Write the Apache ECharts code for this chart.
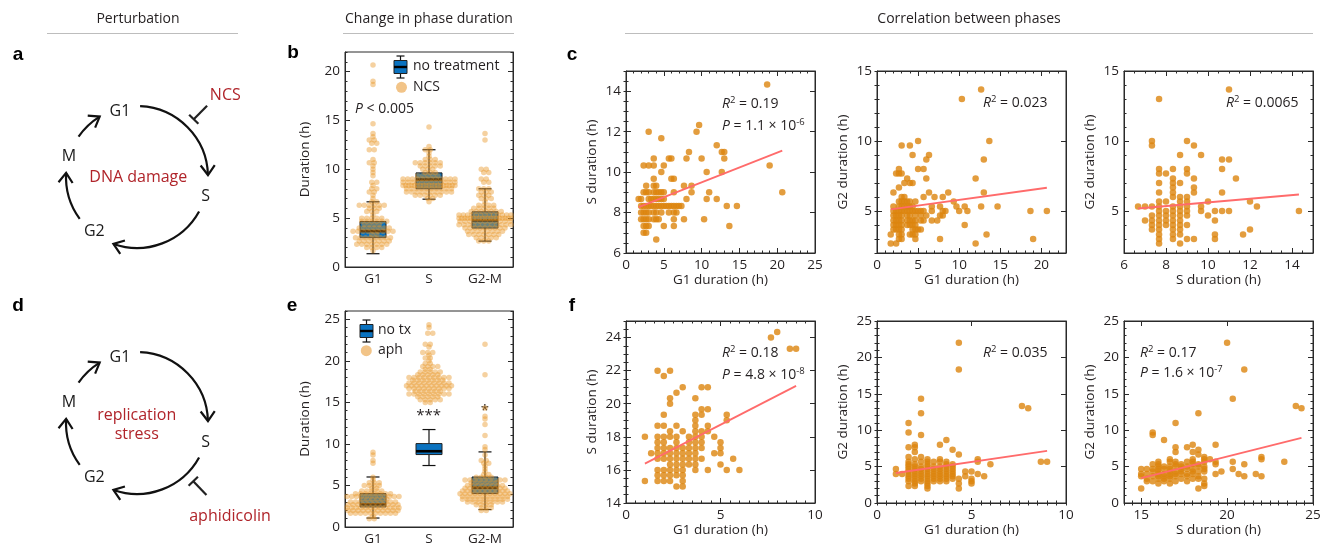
<!DOCTYPE html>
<html><head><meta charset="utf-8">
<script src="https://cdn.jsdelivr.net/npm/echarts@6/dist/echarts.min.js"></script>
<style>html,body{margin:0;padding:0;background:#fff}#c{width:1326px;height:546px}</style>
</head><body><div id="c"></div>
<script>
// ---------------- DATA ----------------
const phaseCats = ['G1', 'S', 'G2-M'];
// box stats [whiskerLow, Q1, median, Q3, whiskerHigh]
const noTreatmentBox = [[1.36, 3.0, 3.67, 4.66, 6.67], [6.94, 8.0, 8.95, 9.63, 12.0], [2.65, 3.98, 4.77, 5.65, 8.0]];
const noTxBox = [[1.08, 2.41, 2.73, 4.02, 6.02], [7.4, 8.72, 9.12, 10.04, 11.73], [2.1, 4.02, 4.74, 6.02, 9.04]];

// NCS: rows [S, [G1 ...]]
const ncsG1S = [
 [14.33,[18.67]],[12.33,[9.67]],[12.0,[3.0,9.33]],[11.67,[4.67]],[11.33,[12.0]],
 [11.0,[8.33,12.67,13.0]],[10.67,[3.67,5.67,6.0,8.0,10.0,13.0]],[10.33,[2.33,3.0,3.67,5.0,19.0]],
 [10.0,[4.67,10.67,12.67]],[9.67,[3.67,6.0,6.33]],[9.33,[2.67,3.67,4.0,7.67,8.67]],
 [9.0,[2.33,2.67,3.0,3.67,4.0,4.33,4.67,5.0,6.33,8.67,11.0,20.67]],
 [8.67,[1.67,2.0,3.0,3.33,3.67,4.0,4.33,4.67,5.0,8.0,10.67,12.0]],
 [8.33,[2.0,2.33,2.67,3.0,3.33,3.67,4.0,4.33,4.67,5.0,5.33,5.67,6.0,6.33,6.67,7.0,7.33,13.33,14.67]],
 [8.0,[2.0,2.33,2.67,3.0,3.67,4.0,4.67,5.67,6.33,6.67]],
 [7.67,[2.0,2.33,2.67,3.0,3.67,4.0,4.33,6.33,7.67,10.33]],
 [7.33,[2.33,2.67,3.0,5.0,6.33,13.67]],[7.0,[2.33,2.67]],[6.67,[4.0]]
];
// NCS: rows [G2, [G1 ...]]
const ncsG1G2 = [
 [13.67,[12.67]],[13.0,[10.33]],[10.0,[5.0,13.67]],[9.67,[3.0,4.0]],[9.0,[4.33,6.33]],
 [8.67,[6.0,13.0]],[8.0,[2.67,5.0,5.67]],[7.67,[2.33,2.67,3.0]],[7.33,[3.67,6.0,12.0]],
 [7.0,[3.33,4.0,4.33]],[6.67,[2.67]],[6.33,[2.0,6.33,8.67,13.0]],[6.0,[3.0,3.33,5.67,7.0,8.0]],
 [5.67,[2.67,3.0,3.33,3.67,4.0,4.67,9.33]],
 [5.33,[2.0,2.67,3.0,3.33,3.67,4.0,4.33,6.67,7.67,9.67,10.67,12.67,14.67]],
 [5.0,[2.0,2.33,2.67,3.0,3.33,3.67,4.0,4.33,4.67,5.0,5.33,5.67,6.67,8.0,8.33,10.0,11.0,18.67,20.67]],
 [4.67,[2.0,2.33,2.67,3.0,3.67,4.0,4.67,5.33,6.0,7.67,8.0]],
 [4.33,[2.0,2.33,2.67,3.0,3.67,4.0,4.33,4.67,5.33,5.67,6.67,7.33]],
 [4.0,[2.0,2.33,2.67,3.0,3.67,4.0,4.33,4.67,10.67]],
 [3.67,[2.0,2.33,2.67,3.0,4.33,4.67,5.0,5.33]],
 [3.33,[1.67,2.67,3.0,4.0,4.33,4.67,13.33]],
 [3.0,[2.67,3.0,4.67,7.67,19.0]],[2.67,[1.67,2.33,12.0]]
];
// NCS: rows [G2, [S ...]]
const ncsSG2 = [
 [13.67,[11.0]],[13.0,[7.67]],[10.0,[7.33,9.0]],[9.67,[7.33,9.33]],[9.0,[8.67,9.67]],
 [8.67,[10.67,11.0]],[8.0,[7.67,8.33,9.0,10.67]],[7.67,[7.67,8.0,9.0]],[7.33,[8.33,9.33,11.33]],
 [7.0,[7.67,8.33,8.67]],[6.67,[8.33,9.33]],[6.33,[7.67,8.33,9.33,10.67]],[6.0,[8.33,8.67,9.0]],
 [5.67,[7.67,8.0,8.67,9.0,10.0,12.0]],[5.33,[6.67,7.0,7.33,7.67,8.33,8.67,9.0,9.67,12.33]],
 [5.0,[7.67,8.0,8.33,8.67,9.0,9.67,10.33,10.67,11.0,14.33]],
 [4.67,[7.33,7.67,8.0,8.33,8.67,9.0,10.0]],[4.33,[7.0,7.33,7.67,8.0,8.33,8.67,10.33]],
 [4.0,[7.33,7.67,8.0,8.33,8.67,9.0]],[3.67,[7.33,7.67,8.33,8.67,12.0]],
 [3.33,[7.67,8.33,8.67,10.33,11.67]],[3.0,[7.67,8.33,9.0,9.33,10.33]],[2.67,[7.67,8.67]]
];
// aphidicolin: rows [S, [G1 ...]]
const aphG1S = [
 [24.33,[8.0]],[24.0,[7.67]],[23.33,[8.67,9.0]],[22.0,[1.67,2.33]],[21.67,[2.0]],
 [21.0,[3.0,4.0,4.33]],[20.67,[2.67]],[20.33,[2.33,3.67]],[20.0,[2.33]],[19.67,[4.0,4.33]],
 [19.33,[2.0,3.67,4.0,5.33]],[19.0,[3.67,5.33]],[18.67,[1.67,2.0,2.67,3.67,4.33]],
 [18.33,[2.33,3.0,3.67,4.0,4.33]],[18.0,[1.0,1.67,2.0,2.33,2.67,3.33,3.67,4.0,4.67]],
 [17.67,[1.67,2.0,2.67,3.33,3.67,4.0,5.0]],[17.33,[1.67,2.0,2.33,2.67,3.0,3.33,3.67,4.0,5.0]],
 [17.0,[1.33,1.67,2.0,2.33,2.67,3.0,3.33,3.67,4.67,5.0]],
 [16.67,[1.67,2.0,2.33,2.67,3.0,3.33,3.67,4.0,5.67]],[16.33,[2.33,2.67,3.0,3.33,3.67,5.0]],
 [16.0,[1.67,2.0,2.33,2.67,3.0,3.67,4.33,5.33,6.0]],[15.67,[1.67,2.0,2.33,2.67,3.0]],
 [15.33,[1.0,1.67,2.0,2.33,3.0]],[15.0,[2.67,3.0]]
];
// aphidicolin: columns [G1, [G2 ...]]
const aphG1G2 = [
 [1.0,[4.67,4.0]],[1.33,[4.0]],
 [1.67,[11.0,9.67,7.67,6.33,5.67,5.33,5.0,4.67,4.33,4.0,3.67,3.33,3.0,2.33]],
 [2.0,[8.0,7.67,7.0,6.0,5.33,5.0,4.67,4.33,4.0,3.67,3.33,3.0,2.67,2.33]],
 [2.33,[14.33,12.33,9.33,6.33,5.67,5.0,4.67,4.33,4.0,3.67,3.33,3.0]],
 [2.67,[6.0,5.67,5.33,5.0,4.67,4.33,4.0,3.67,3.33,3.0,2.67,2.33,2.0]],
 [3.0,[5.67,5.0,4.67,4.33,4.0,3.67,3.33,3.0]],
 [3.33,[8.0,6.0,5.67,5.0,4.67,4.33,4.0,3.67,3.33,3.0]],
 [3.67,[8.67,5.67,5.33,5.0,4.67,4.33,4.0,3.67,3.33,3.0]],
 [4.0,[7.33,5.33,5.0,4.67,4.33,4.0,3.67,3.33]],
 [4.33,[22.0,18.33,6.67,3.33,2.67,2.0]],[4.67,[4.33,3.67]],[5.0,[4.33,3.33,3.0,2.67]],
 [5.33,[6.0,5.67,4.0]],[5.67,[3.67]],[6.0,[5.33]],[7.67,[13.33]],[8.0,[13.0]],[8.67,[5.67]],[9.0,[5.67]]
];
// aphidicolin: columns [S, [G2 ...]]
const aphSG2 = [
 [15.0,[4.67,4.0,3.67,2.0]],[15.33,[4.67,4.0,3.33,3.0]],[15.67,[9.67,9.33,5.33,4.67,4.33,3.67,3.0]],
 [16.0,[5.67,5.33,5.0,4.67,4.33,4.0,3.67,3.33,2.67]],[16.33,[8.67,5.0,4.67,4.0,3.67,3.33,3.0]],
 [16.67,[6.0,5.67,5.0,4.67,4.33,4.0,3.67,3.33,2.67]],
 [17.0,[11.0,7.67,7.0,5.67,5.33,5.0,4.33,4.0,3.67,3.0]],[17.33,[5.33,5.0,4.67,4.33,4.0,3.33]],
 [17.67,[7.67,5.67,5.0,4.67,4.0,3.67,3.0]],[18.0,[8.0,7.0,6.0,5.67,5.33,4.67,4.33,4.0,3.33]],
 [18.33,[12.33,7.33,6.67,5.33,5.0,4.33,3.67,3.33,2.0]],
 [18.67,[6.33,6.0,5.67,5.0,4.67,4.33,3.33,2.67,2.33]],[19.0,[6.0]],[19.33,[8.0,5.67,5.33,4.0]],
 [19.67,[4.33]],[20.0,[22.0]],[20.33,[14.33,5.67,4.67]],[20.67,[4.0]],[21.0,[18.33,5.33,3.67]],
 [21.67,[4.0]],[22.0,[6.33,6.0,3.67]],[23.33,[5.67]],[24.0,[13.33]],[24.33,[13.0]]
];
// regression lines (endpoints)
const fitNcsG1S = [[1.67, 8.27], [20.67, 11.06]];
const fitNcsG1G2 = [[1.67, 5.12], [20.67, 6.66]];
const fitNcsSG2 = [[6.67, 5.18], [14.33, 6.18]];
const fitAphG1S = [[1.0, 16.38], [9.0, 21.08]];
const fitAphG1G2 = [[1.0, 4.12], [9.0, 7.15]];
const fitAphSG2 = [[15.0, 3.43], [24.33, 8.93]];

// ---------------- helpers ----------------
const rowsToPairs = rows => rows.flatMap(([y, xs]) => xs.map(x => [x, y]));   // [y,[x..]]
const colsToPairs = cols => cols.flatMap(([x, ys]) => ys.map(y => [x, y]));   // [x,[y..]]

const ncsPairsG1S = rowsToPairs(ncsG1S), ncsPairsG1G2 = rowsToPairs(ncsG1G2), ncsPairsSG2 = rowsToPairs(ncsSG2);
const aphPairsG1S = rowsToPairs(aphG1S), aphPairsG1G2 = colsToPairs(aphG1G2), aphPairsSG2 = colsToPairs(aphSG2);

const FONT = '"Open Sans", "Noto Sans", sans-serif';
const TXT = '#231f20', AX = '#2a2a2a', RED = '#b0242a';
const DOT = '#dc850e', SWARM = 'rgba(232,150,38,0.55)', FIT = '#ff6b6b', BOX = '#0a72bf';

const grids = [], xAxes = [], yAxes = [], series = [];
function addGrid(l, t, w, h) {
  grids.push({left: l, top: t, width: w, height: h, show: true, borderColor: AX, borderWidth: 1, backgroundColor: 'transparent'});
  return grids.length - 1;
}
function addValueAxes(gi, isX, spec) {
  const arr = isX ? xAxes : yAxes;
  const sides = isX ? ['bottom', 'top'] : ['left', 'right'];
  let main = -1;
  sides.forEach((pos, si) => {
    const labeled = si === 0;
    arr.push({gridIndex: gi, type: 'value', position: pos, min: spec.min, max: spec.max, interval: spec.minorStep,
      axisLine: {show: false}, axisLabel: {show: false}, splitLine: {show: false},
      axisTick: {show: true, inside: true, length: 2.5, lineStyle: {color: AX, width: 1}}});
    const ax = {gridIndex: gi, type: 'value', position: pos, min: spec.min, max: spec.max,
      axisLine: {show: true, onZero: false, lineStyle: {color: AX, width: 1}},
      splitLine: {show: false},
      axisTick: {show: true, inside: true, length: 5, customValues: spec.ticks, lineStyle: {color: AX, width: 1}},
      axisLabel: {show: labeled, customValues: spec.ticks, color: TXT, fontFamily: FONT, fontSize: 13.5, margin: 5}};
    if (labeled && spec.name) {
      Object.assign(ax, {name: spec.name, nameLocation: 'middle', nameGap: spec.nameGap,
        nameTextStyle: {color: TXT, fontFamily: FONT, fontSize: 13.5}});
    }
    arr.push(ax);
    if (labeled) main = arr.length - 1;
  });
  return main;
}

// ---------------- swarm panels (b, e) ----------------
// points sharing a value are spread in a centred row; rows alternate a half-step to interleave
function swarmOffsets(values, sep, maxHalf) {
  const levels = new Map();
  values.forEach((v, i) => { const k = v.toFixed(2); if (!levels.has(k)) levels.set(k, []); levels.get(k).push(i); });
  const keys = [...levels.keys()].sort((a, b) => a - b);
  const out = new Array(values.length);
  keys.forEach((k, li) => {
    const idx = levels.get(k), n = idx.length;
    const step = n > 1 ? Math.min(sep, 2 * maxHalf / (n - 1)) : 0;
    const shift = (li % 2 ? 0.25 : -0.25) * step * (n > 1 && n < 8 ? 1 : 0);
    idx.forEach((i, j) => { out[i] = (j - (n - 1) / 2) * step + shift; });
  });
  return out;
}
function boxRender(params, api) {
  const c = api.value(0);
  const lo = api.coord([c, api.value(1)]), q1 = api.coord([c, api.value(2)]), md = api.coord([c, api.value(3)]),
        q3 = api.coord([c, api.value(4)]), hi = api.coord([c, api.value(5)]);
  const x = lo[0], bw = 26, cw = 13, st = {stroke: '#111', lineWidth: 1.2};
  return {type: 'group', children: [
    {type: 'line', shape: {x1: x, y1: hi[1], x2: x, y2: q3[1]}, style: st},
    {type: 'line', shape: {x1: x, y1: q1[1], x2: x, y2: lo[1]}, style: st},
    {type: 'line', shape: {x1: x - cw / 2, y1: hi[1], x2: x + cw / 2, y2: hi[1]}, style: st},
    {type: 'line', shape: {x1: x - cw / 2, y1: lo[1], x2: x + cw / 2, y2: lo[1]}, style: st},
    {type: 'rect', shape: {x: x - bw / 2, y: q3[1], width: bw, height: q1[1] - q3[1]}, style: {fill: BOX, stroke: '#222', lineWidth: 1}},
    {type: 'line', shape: {x1: x - bw / 2, y1: md[1], x2: x + bw / 2, y2: md[1]}, style: {stroke: '#000', lineWidth: 2.6}}
  ]};
}
function swarmPanel(rect, yMax, yTicks, boxStats, groups) {
  const gi = addGrid(...rect);
  xAxes.push({gridIndex: gi, type: 'category', data: phaseCats, position: 'bottom', boundaryGap: true,
    axisLine: {show: true, lineStyle: {color: AX}}, axisTick: {show: false}, splitLine: {show: false},
    axisLabel: {color: TXT, fontFamily: FONT, fontSize: 13.5, margin: 5}});
  const catIdx = xAxes.length - 1;
  xAxes.push({gridIndex: gi, type: 'value', min: 0, max: 3, show: false});
  const valIdx = xAxes.length - 1;
  const yIdx = addValueAxes(gi, false, {min: 0, max: yMax, minorStep: 1, ticks: yTicks, name: 'Duration (h)', nameGap: 33});
  series.push({type: 'custom', xAxisIndex: catIdx, yAxisIndex: yIdx, z: 2, renderItem: boxRender,
    encode: {x: 0, y: [1, 2, 3, 4, 5]}, data: boxStats.map((b, i) => [i, ...b])});
  const pxX = rect[2] / 3;
  const pts = [];
  groups.forEach((vals, ci) => {
    const off = swarmOffsets(vals, 5, 26);
    vals.forEach((v, k) => pts.push([ci + 0.5 + off[k] / pxX, v]));
  });
  series.push({type: 'scatter', xAxisIndex: valIdx, yAxisIndex: yIdx, z: 3, symbolSize: 5.5, silent: true,
    itemStyle: {color: SWARM}, data: pts});
}
swarmPanel([345, 52, 168, 215], 22, [0, 5, 10, 15, 20], noTreatmentBox,
  [ncsPairsG1S.map(p => p[0]), ncsPairsG1S.map(p => p[1]), ncsPairsG1G2.map(p => p[1])]);
swarmPanel([345, 311, 168, 216], 26, [0, 5, 10, 15, 20, 25], noTxBox,
  [aphPairsG1S.map(p => p[0]), aphPairsG1S.map(p => p[1]), aphPairsG1G2.map(p => p[1])]);

// ---------------- scatter panels (c, f) ----------------
function scatterPanel(rect, xs, ys, pairs, fit) {
  const gi = addGrid(...rect);
  const xi = addValueAxes(gi, true, Object.assign({nameGap: 20}, xs));
  const yi = addValueAxes(gi, false, Object.assign({nameGap: 27}, ys));
  series.push({type: 'scatter', xAxisIndex: xi, yAxisIndex: yi, z: 3, symbolSize: 6.5, silent: true,
    itemStyle: {color: DOT}, data: pairs});
  series.push({type: 'line', xAxisIndex: xi, yAxisIndex: yi, z: 4, showSymbol: false, silent: true,
    lineStyle: {color: FIT, width: 1.8}, data: fit});
}
const g1X25 = {min: 0, max: 25, minorStep: 1, ticks: [0, 5, 10, 15, 20, 25], name: 'G1 duration (h)'};
const g1X23 = {min: 0, max: 23, minorStep: 1, ticks: [0, 5, 10, 15, 20], name: 'G1 duration (h)'};
const sX15 = {min: 6, max: 15, minorStep: 0.5, ticks: [6, 8, 10, 12, 14], name: 'S duration (h)'};
const sY15 = {min: 6, max: 15, minorStep: 0.5, ticks: [6, 8, 10, 12, 14], name: 'S duration (h)'};
const g2Y15 = {min: 2, max: 15, minorStep: 1, ticks: [5, 10, 15], name: 'G2 duration (h)'};
const g1X10 = {min: 0, max: 10, minorStep: 0.5, ticks: [0, 5, 10], name: 'G1 duration (h)'};
const sY25 = {min: 14, max: 25, minorStep: 0.5, ticks: [14, 16, 18, 20, 22, 24], name: 'S duration (h)'};
const g2Y25 = {min: 0, max: 25, minorStep: 1, ticks: [0, 5, 10, 15, 20, 25], name: 'G2 duration (h)'};
const sX25 = {min: 14, max: 25, minorStep: 0.5, ticks: [15, 20, 25], name: 'S duration (h)'};

scatterPanel([626, 71, 189, 182], g1X25, sY15, ncsPairsG1S, fitNcsG1S);
scatterPanel([877, 71, 189, 182], g1X23, g2Y15, ncsPairsG1G2, fitNcsG1G2);
scatterPanel([1124, 71, 189, 182], sX15, g2Y15, ncsPairsSG2, fitNcsSG2);
scatterPanel([626, 321, 189, 182], g1X10, sY25, aphPairsG1S, fitAphG1S);
scatterPanel([877, 321, 189, 182], g1X10, g2Y25, aphPairsG1G2, fitAphG1G2);
scatterPanel([1124, 321, 189, 182], sX25, g2Y25, aphPairsSG2, fitAphSG2);

// ---------------- graphics: titles, diagrams, annotations ----------------
const G = [];
function txt(x, y, text, o = {}) {
  G.push({type: 'text', x, y, silent: true, style: Object.assign({text, fill: TXT, fontFamily: FONT, fontSize: 13.5,
    align: 'center', verticalAlign: 'middle'}, o)});
}
function line(x1, y1, x2, y2, stroke, w) {
  G.push({type: 'line', silent: true, shape: {x1, y1, x2, y2}, style: {stroke, lineWidth: w}});
}
// section headers
txt(138, 19, 'Perturbation', {fontSize: 14}); line(47, 33.5, 238, 33.5, '#bdbdbd', 1);
txt(429, 19, 'Change in phase duration', {fontSize: 14}); line(343, 33.5, 514, 33.5, '#bdbdbd', 1);
txt(969, 19, 'Correlation between phases', {fontSize: 14}); line(625, 33.5, 1313, 33.5, '#bdbdbd', 1);
// panel letters
[['a', 18, 55], ['b', 293, 53], ['c', 572, 55], ['d', 18, 306], ['e', 292, 306], ['f', 572, 306]].forEach(([t, x, y]) =>
  txt(x, y, t, {fontFamily: '"Liberation Sans", Arial, sans-serif', fontWeight: 'bold', fontSize: 19, fill: '#000'}));

// cell-cycle diagrams
const R = d => d * Math.PI / 180;
function arrowArc(cx, cy, r, a0, a1) {
  const st = {stroke: '#111', lineWidth: 2.2, fill: null, lineJoin: 'miter'};
  G.push({type: 'arc', silent: true, shape: {cx, cy, r, startAngle: R(a0), endAngle: R(a1), clockwise: true}, style: st});
  const t = R(a1), tip = [cx + r * Math.cos(t), cy + r * Math.sin(t)];
  const back = [Math.sin(t), -Math.cos(t)], L = 12, ang = R(36);
  const rot = (v, a) => [v[0] * Math.cos(a) - v[1] * Math.sin(a), v[0] * Math.sin(a) + v[1] * Math.cos(a)];
  const w1 = rot(back, ang), w2 = rot(back, -ang);
  G.push({type: 'polyline', silent: true, shape: {points: [[tip[0] + L * w1[0], tip[1] + L * w1[1]], tip, [tip[0] + L * w2[0], tip[1] + L * w2[1]]]}, style: st});
}
function inhibitor(cx, cy, angDeg, r0, r1, half) {
  const t = R(angDeg), u = [Math.cos(t), Math.sin(t)], p = [-Math.sin(t), Math.cos(t)];
  const b = [cx + r0 * u[0], cy + r0 * u[1]], e = [cx + r1 * u[0], cy + r1 * u[1]];
  line(b[0], b[1], e[0], e[1], '#222', 2.2);
  line(b[0] - half * p[0], b[1] - half * p[1], b[0] + half * p[0], b[1] + half * p[1], '#222', 2.2);
}
function cycle(dy) {
  const cx = 137, cy = 177 + dy, r = 71;
  arrowArc(cx, cy, r, -87.5, -1.6);
  arrowArc(cx, cy, r, 29, 109.4);
  arrowArc(cx, cy, r, 143.8, 183.3);
  arrowArc(cx, cy, r, 214.6, 238.3);
  const f = {fontSize: 16, fill: '#1a1a1a'};
  txt(120, 111 + dy, 'G1', f); txt(205.7, 196 + dy, 'S', f); txt(94.3, 231.7 + dy, 'G2', f); txt(69, 156.7 + dy, 'M', f);
}
cycle(0);
inhibitor(137, 177, -45.5, 81, 100, 6.5);
txt(225.3, 95, 'NCS', {fontSize: 16, fill: RED});
txt(138.3, 177.7, 'DNA damage', {fontSize: 16, fill: RED});
cycle(246);
inhibitor(137, 423, 46, 81, 100, 6.5);
txt(136.7, 415, 'replication', {fontSize: 16, fill: RED});
txt(136.7, 434, 'stress', {fontSize: 16, fill: RED});
txt(230, 516, 'aphidicolin', {fontSize: 16, fill: RED});

// legends of b and e
function boxIcon(cx, cy) {
  line(cx, cy - 11, cx, cy + 11, '#111', 1.2);
  line(cx - 4, cy - 11, cx + 4, cy - 11, '#111', 1.2);
  line(cx - 4, cy + 11, cx + 4, cy + 11, '#111', 1.2);
  G.push({type: 'rect', silent: true, shape: {x: cx - 6.5, y: cy - 6.5, width: 13, height: 13}, style: {fill: BOX, stroke: '#222', lineWidth: 1}});
  line(cx - 6.5, cy, cx + 6.5, cy, '#000', 2.4);
}
function dotIcon(cx, cy) { G.push({type: 'circle', silent: true, shape: {cx, cy, r: 5.5}, style: {fill: '#f2c488'}}); }
const lg = {align: 'left', fontSize: 14};
boxIcon(400.5, 67); txt(413, 66.5, 'no treatment', lg);
dotIcon(401.5, 87.3); txt(413, 87, 'NCS', lg);
boxIcon(366.5, 331); txt(378, 330.5, 'no tx', lg);
dotIcon(366.3, 350.7); txt(378, 350.5, 'aph', lg);
const it = {i: {fontStyle: 'italic', fontFamily: FONT, fontSize: 14, fill: TXT}, s: {fontFamily: FONT, fontSize: 9.5, fill: TXT, verticalAlign: 'top', lineHeight: 18}};
txt(355, 109, '{i|P} < 0.005', {align: 'left', fontSize: 14, rich: it});
txt(428.7, 416, '***', {fontSize: 15});
txt(485, 411, '*', {fontSize: 15});

// regression annotations
const an = {align: 'left', fontSize: 14, rich: it};
txt(722, 104, '{i|R}{s|2} = 0.19', an); txt(722, 126, '{i|P} = 1.1 × 10{s|-6}', an);
txt(983, 103.5, '{i|R}{s|2} = 0.023', an);
txt(1226, 103.5, '{i|R}{s|2} = 0.0065', an);
txt(722, 353.5, '{i|R}{s|2} = 0.18', an); txt(722, 375, '{i|P} = 4.8 × 10{s|-8}', an);
txt(983, 353.5, '{i|R}{s|2} = 0.035', an);
txt(1140, 353.5, '{i|R}{s|2} = 0.17', an); txt(1140, 373, '{i|P} = 1.6 × 10{s|-7}', an);

const chart = echarts.init(document.getElementById('c'), null, {renderer: 'canvas'});
chart.setOption({
  animation: false, backgroundColor: '#fff',
  grid: grids, xAxis: xAxes, yAxis: yAxes, series,
  graphic: {elements: G}
});
</script></body></html>
